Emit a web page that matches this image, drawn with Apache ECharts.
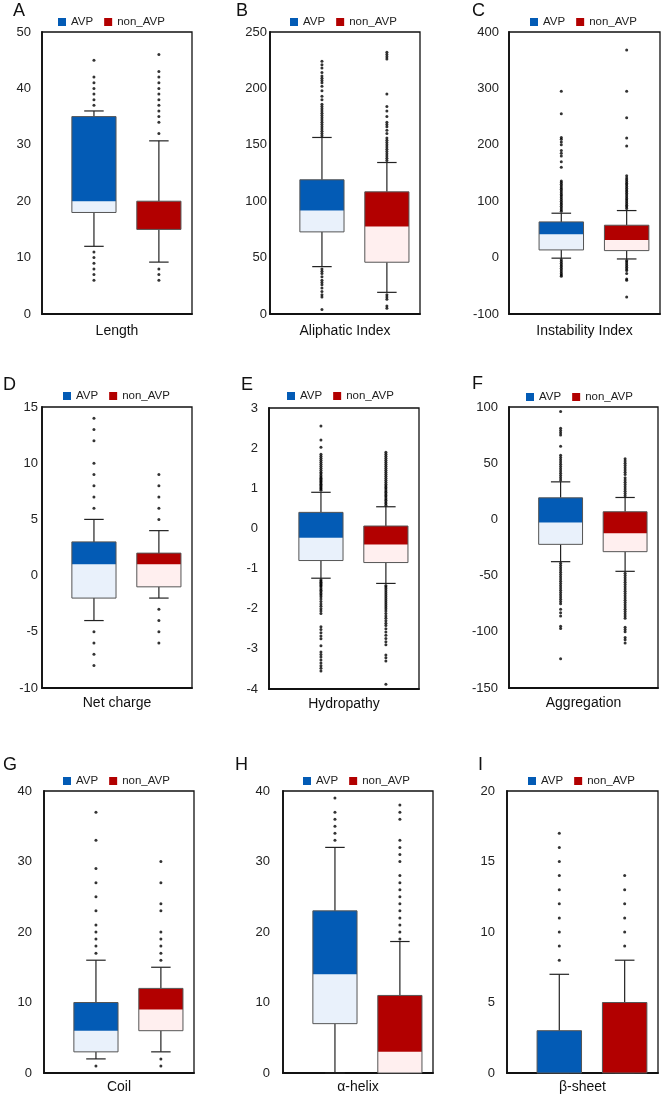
<!DOCTYPE html>
<html><head><meta charset="utf-8">
<script src="https://cdn.jsdelivr.net/npm/echarts@6/dist/echarts.min.js"></script>
<style>html,body{margin:0;padding:0;background:#fff}#c{width:664px;height:1099px}</style>
</head><body><div id="c"></div>
<script>
// ---------------- DATA ----------------
const panelLetters = ['A','B','C','D','E','F','G','H','I'];
const featureNames = ['Length','Aliphatic Index','Instability Index','Net charge','Hydropathy','Aggregation','Coil','α-helix','β-sheet'];
const groupNames = ['AVP','non_AVP'];
const yMins = [0, 0, -100, -10, -4, -150, 0, 0, 0];
const yMaxs = [50, 250, 400, 15, 3, 100, 40, 40, 20];
const yIntervals = [10, 50, 100, 5, 1, 50, 10, 10, 5];

// box stats: [lower whisker, Q1, median, Q3, upper whisker]
const boxAVP = [
  [12, 18, 20, 35, 36],
  [42, 72.8, 91.7, 119, 156.5],
  [-1, 13.6, 41.4, 63.3, 78.7],
  [-4, -2, 1, 3, 5],
  [-1.24, -0.80, -0.23, 0.40, 0.90],
  [-37.6, -22.2, -2.7, 19.2, 33.4],
  [2, 3, 6, 10, 16],
  [0, 7, 14, 23, 32],
  [0, 0, 0, 3, 7]
];
const boxNon = [
  [9.2, 15, 15, 20, 30.7],
  [19.2, 45.9, 77.5, 108.3, 134.3],
  [-2.4, 12.4, 31.4, 57.4, 83.4],
  [-2, -1, 1, 2, 4],
  [-1.37, -0.85, -0.40, 0.06, 0.54],
  [-46.2, -28.7, -12.4, 6.8, 19.5],
  [3, 6, 9, 12, 15],
  [0, 0, 3, 11, 18.65],
  [0, 0, 0, 5, 8]
];

const outAVP = [
  [45, 42, 41, 40, 39, 38, 37, 11, 10, 9, 8, 7, 6],
  [158, 160, 162, 164, 166, 168, 170, 172, 174, 176, 178, 180, 182, 184, 186, 190, 193, 198, 202, 205, 207, 209, 211, 214, 218, 221, 224,
   40, 38, 36, 33, 30, 28, 26, 23, 20, 17, 15, 4],
  [82, 85, 88, 91, 94, 97, 100, 103, 106, 109, 112, 115, 118, 121, 124, 127, 130, 133, 136, 160, 170, 180, 185, 190, 200, 205, 210, 213, 255, 295,
   -4, -7, -10, -13, -16, -19, -22, -25, -28, -31, -33],
  [6, 7, 8, 9, 10, 12, 13, 14, -5, -6, -7, -8],
  [0.95, 0.98, 1.01, 1.04, 1.07, 1.1, 1.13, 1.16, 1.19, 1.22, 1.25, 1.28, 1.32, 1.36, 1.4, 1.45, 1.5, 1.55, 1.6, 1.65, 1.7, 1.75, 1.8, 1.85, 2.02, 2.2, 2.55,
   -1.28, -1.31, -1.34, -1.37, -1.4, -1.43, -1.46, -1.5, -1.54, -1.58, -1.62, -1.66, -1.7, -1.76, -1.82, -1.88, -1.94, -2.0, -2.06, -2.12,
   -2.45, -2.52, -2.6, -2.68, -2.75, -2.92, -3.08, -3.14, -3.2, -3.28, -3.35, -3.42, -3.48, -3.55],
  [35, 37, 39, 41, 43, 45, 47, 49, 51, 53, 55, 57, 65, 75, 77, 79, 81, 96,
   -39, -41, -43, -45, -47, -49, -51, -53, -55, -57, -59, -61, -63, -65, -67, -69, -71, -73, -75, -80, -83, -86, -95, -97, -124],
  [17, 18, 19, 20, 21, 23, 25, 27, 29, 33, 37, 1],
  [33, 34, 35, 36, 37, 39],
  [8, 9, 10, 11, 12, 13, 14, 15, 16, 17]
];
const outNon = [
  [46, 43, 42, 41, 40, 39, 38, 37, 36, 35, 34, 32, 8, 7, 6],
  [136, 138, 140, 142, 144, 146, 148, 150, 152, 154, 156, 160, 163, 166, 168, 170, 175, 180, 184, 195, 226, 228, 230, 232,
   17, 15, 13, 7, 5],
  [87, 90, 93, 96, 99, 102, 105, 108, 111, 114, 117, 120, 123, 126, 129, 132, 135, 138, 141, 145, 198, 212, 248, 295, 368,
   -5, -8, -11, -14, -17, -20, -23, -28, -38, -40, -70],
  [5, 6, 7, 8, 9, -3, -4, -5, -6],
  [0.58, 0.62, 0.66, 0.7, 0.74, 0.78, 0.82, 0.86, 0.9, 0.94, 0.98, 1.02, 1.06, 1.1, 1.15, 1.2, 1.25, 1.3, 1.35, 1.4, 1.45, 1.5, 1.55, 1.6, 1.65, 1.7, 1.75, 1.8, 1.85, 1.9,
   -1.42, -1.46, -1.5, -1.55, -1.6, -1.65, -1.7, -1.75, -1.8, -1.85, -1.9, -1.95, -2.0, -2.06, -2.12, -2.18, -2.24, -2.3, -2.36, -2.42, -2.5, -2.58, -2.66, -2.74, -2.82, -2.9,
   -3.15, -3.22, -3.3, -3.88],
  [21, 23, 25, 27, 29, 31, 33, 35, 37, 40, 42, 44, 46, 48, 50, 52, 54,
   -48, -50, -52, -54, -56, -58, -60, -62, -64, -66, -68, -70, -72, -74, -76, -78, -80, -82, -84, -86, -88, -96, -98, -100, -105, -107, -110],
  [16, 17, 18, 19, 20, 23, 24, 27, 30, 2, 1],
  [19, 20, 21, 22, 23, 24, 25, 26, 27, 28, 30, 31, 32, 33, 36, 37, 38],
  [9, 10, 11, 12, 13, 14]
];

// ---------------- LAYOUT / STYLE ----------------
const gridBoxes = [
  [42, 32, 150, 282], [270, 32, 150, 282], [509, 32, 151, 282],
  [42, 407, 150, 281], [269, 408, 150, 281], [509, 407, 149, 281],
  [44, 791, 150, 282], [283, 791, 150, 282], [507, 791, 151, 282]
];
const labelMargins = [11, 3, 10, 4, 11, 11, 12, 13, 12];
const nameGaps = [10, 10, 10, 8, 8, 8, 7, 7, 7];
const letterPos = [[13, 2], [236, 2], [472, 2], [3, 376], [241, 376], [472, 375], [3, 756], [235, 756], [478, 756]];
const legendPos = [[58, 16], [290, 16], [530, 16], [63, 390], [287, 390], [526, 391], [63, 775], [303, 775], [528, 775]];
const DARK = ['#035BB5', '#B20000'];
const LIGHT = ['#E9F1FB', '#FFEFEF'];
const FONT = 'Liberation Sans, Arial, sans-serif';

function boxRenderer(dark, light) {
  return function (params, api) {
    const x = api.value(0);
    const pLo = api.coord([x, api.value(1)]);
    const pQ1 = api.coord([x, api.value(2)]);
    const pMd = api.coord([x, api.value(3)]);
    const pQ3 = api.coord([x, api.value(4)]);
    const pHi = api.coord([x, api.value(5)]);
    const unit = api.size([1, 0])[0];
    const bw = unit * 0.68, cw = unit * 0.3;
    const cx = pQ1[0];
    const wk = { stroke: '#222', lineWidth: 1.2 };
    return {
      type: 'group',
      children: [
        { type: 'line', shape: { x1: cx, y1: pHi[1], x2: cx, y2: pQ3[1] }, style: wk },
        { type: 'line', shape: { x1: cx - cw / 2, y1: pHi[1], x2: cx + cw / 2, y2: pHi[1] }, style: wk },
        { type: 'line', shape: { x1: cx, y1: pQ1[1], x2: cx, y2: pLo[1] }, style: wk },
        { type: 'line', shape: { x1: cx - cw / 2, y1: pLo[1], x2: cx + cw / 2, y2: pLo[1] }, style: wk },
        { type: 'rect', shape: { x: cx - bw / 2, y: pMd[1], width: bw, height: pQ1[1] - pMd[1] }, style: { fill: light } },
        { type: 'rect', shape: { x: cx - bw / 2, y: pQ3[1], width: bw, height: pMd[1] - pQ3[1] }, style: { fill: dark } },
        { type: 'rect', shape: { x: cx - bw / 2, y: pQ3[1], width: bw, height: pQ1[1] - pQ3[1] }, style: { fill: 'none', stroke: '#555', lineWidth: 1 } }
      ]
    };
  };
}

const grids = [], xAxes = [], yAxes = [], series = [], titles = [], legends = [];
for (let i = 0; i < 9; i++) {
  const g = gridBoxes[i];
  grids.push({ left: g[0], top: g[1], width: g[2], height: g[3], show: true, borderColor: '#111', borderWidth: 1.3, backgroundColor: 'transparent' });
  xAxes.push({
    gridIndex: i, type: 'value', min: 0.2, max: 2.51,
    name: featureNames[i], nameLocation: 'middle', nameGap: nameGaps[i],
    nameTextStyle: { fontSize: 14, color: '#111', fontFamily: FONT },
    axisLabel: { show: false }, axisTick: { show: false }, splitLine: { show: false },
    axisLine: { show: true, onZero: false, lineStyle: { color: '#111', width: 1.8 } }
  });
  yAxes.push({
    gridIndex: i, type: 'value', min: yMins[i], max: yMaxs[i], interval: yIntervals[i],
    axisLabel: { fontSize: 13, color: '#222', margin: labelMargins[i], fontFamily: FONT },
    axisTick: { show: false }, splitLine: { show: false },
    axisLine: { show: true, onZero: false, lineStyle: { color: '#111', width: 1.8 } }
  });
  titles.push({ text: panelLetters[i], left: letterPos[i][0], top: letterPos[i][1], padding: 0,
    textStyle: { fontSize: 18, fontWeight: 'normal', color: '#111', fontFamily: FONT } });
  legends.push({
    left: legendPos[i][0], top: legendPos[i][1], padding: 0, itemWidth: 8, itemHeight: 8, itemGap: 11,
    selectedMode: false, textStyle: { fontSize: 11.5, color: '#222', fontFamily: FONT },
    data: [{ name: 'AVP', icon: 'rect' }, { name: 'non_AVP', icon: 'rect' }]
  });
  const boxes = [boxAVP[i], boxNon[i]];
  const outs = [outAVP[i], outNon[i]];
  for (let k = 0; k < 2; k++) {
    series.push({
      type: 'custom', name: groupNames[k], xAxisIndex: i, yAxisIndex: i,
      itemStyle: { color: DARK[k] },
      renderItem: boxRenderer(DARK[k], LIGHT[k]),
      encode: { x: 0, y: [1, 2, 3, 4, 5] },
      data: [[k + 1].concat(boxes[k])], z: 2
    });
    series.push({
      type: 'scatter', name: groupNames[k] + '_outliers', xAxisIndex: i, yAxisIndex: i,
      symbol: 'circle', symbolSize: 3, itemStyle: { color: '#000' }, z: 3,
      data: outs[k].map(v => [k + 1, v])
    });
  }
}

const chart = echarts.init(document.getElementById('c'), null, { renderer: 'canvas' });
chart.setOption({
  animation: false,
  backgroundColor: '#fff',
  title: titles, legend: legends, grid: grids, xAxis: xAxes, yAxis: yAxes, series: series
});
</script></body></html>
